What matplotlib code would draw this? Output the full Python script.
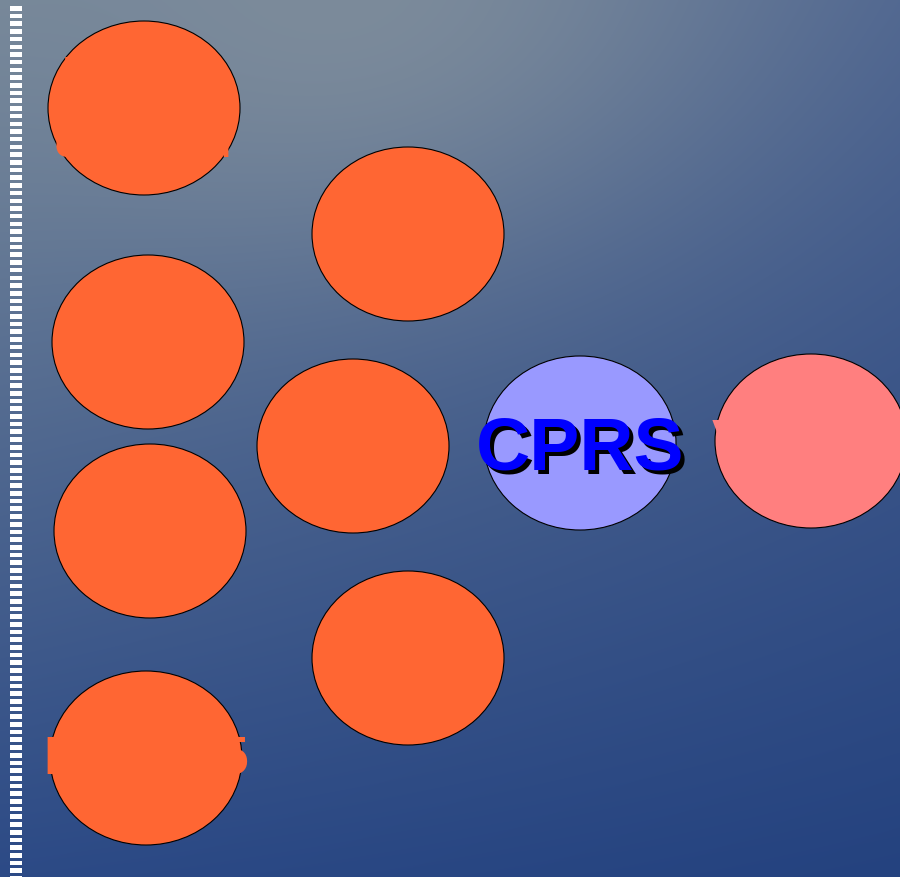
import numpy as np
import matplotlib
matplotlib.use("Agg")
import matplotlib.pyplot as plt
from matplotlib.patches import Ellipse, Rectangle

# Slide size in pixels
W, H = 900, 877

# Ellipses: centre x, centre y (pixels from top-left), fill colour
ell_x = [144, 408, 148, 353, 150, 408, 146, 580, 811]
ell_y = [108, 234, 342, 446, 531, 658, 758, 443, 441]
ell_colors = ["#ff6633"] * 7 + ["#9999ff", "#ff7f7f"]
ell_w, ell_h = 192, 174

# Labels that sit on the ellipses (same colour as the fill, mostly hidden)
hidden_labels = ["Electricity\nGeneration", "Phase 5", "Vote"]
hidden_pos = [(143, 110), (146, 760), (712, 443)]
hidden_colors = ["#ff6633", "#ff6633", "#ff7f7f"]
hidden_sizes = [24, 39, 40]
hidden_ha = ["center", "center", "left"]
hidden_spacing = [2.9, 1.2, 1.2]

centre_label = "CPRS"

fig = plt.figure(figsize=(W / 100, H / 100), dpi=100)
ax = fig.add_axes([0, 0, 1, 1])
ax.set_xlim(0, W)
ax.set_ylim(H, 0)
ax.axis("off")

# Background: corner colours blended plus a soft highlight near the top
tl = np.array([0x74, 0x86, 0x99]) / 255
tr = np.array([0x4e, 0x65, 0x90]) / 255
bl = np.array([0x2c, 0x4a, 0x86]) / 255
br = np.array([0x24, 0x42, 0x7f]) / 255
hi = np.array([0x7c, 0x8b, 0x9b]) / 255
yy, xx = np.mgrid[0:H, 0:W]
u = (xx / W)[..., None]
v = (yy / H)[..., None]
top = tl * (1 - u) + tr * u
bot = bl * (1 - u) + br * u
img = top * (1 - v) + bot * v
g = np.exp(-(((xx - 330) / 380) ** 2 + ((yy + 20) / 260) ** 2))[..., None]
img = img * (1 - g) + hi * g
ax.imshow(img, extent=[0, W, H, 0], aspect="auto", zorder=0)

# White dashed strip on the left
for y in np.arange(6, H, 7.7):
    ax.add_patch(Rectangle((10, y), 12, 4.6, color="white", lw=0, zorder=1))

# Ellipses
for x, y, c in zip(ell_x, ell_y, ell_colors):
    ax.add_patch(Ellipse((x, y), ell_w, ell_h, facecolor=c,
                         edgecolor="black", lw=0.8, zorder=2))

# Hidden labels
for txt, (x, y), c, s, ha, ls in zip(hidden_labels, hidden_pos, hidden_colors,
                                     hidden_sizes, hidden_ha, hidden_spacing):
    ax.text(x, y, txt, color=c, fontsize=s, fontweight="bold",
            family="Liberation Sans", ha=ha, va="center",
            linespacing=ls, zorder=3)

# CPRS with drop shadow
ax.text(584, 474, centre_label, color="black", fontsize=54, fontweight="bold",
        family="Liberation Sans", ha="center", va="baseline", zorder=3)
ax.text(580, 470, centre_label, color="#0000ff", fontsize=54, fontweight="bold",
        family="Liberation Sans", ha="center", va="baseline", zorder=4)

fig.savefig("out.png", dpi=100)
